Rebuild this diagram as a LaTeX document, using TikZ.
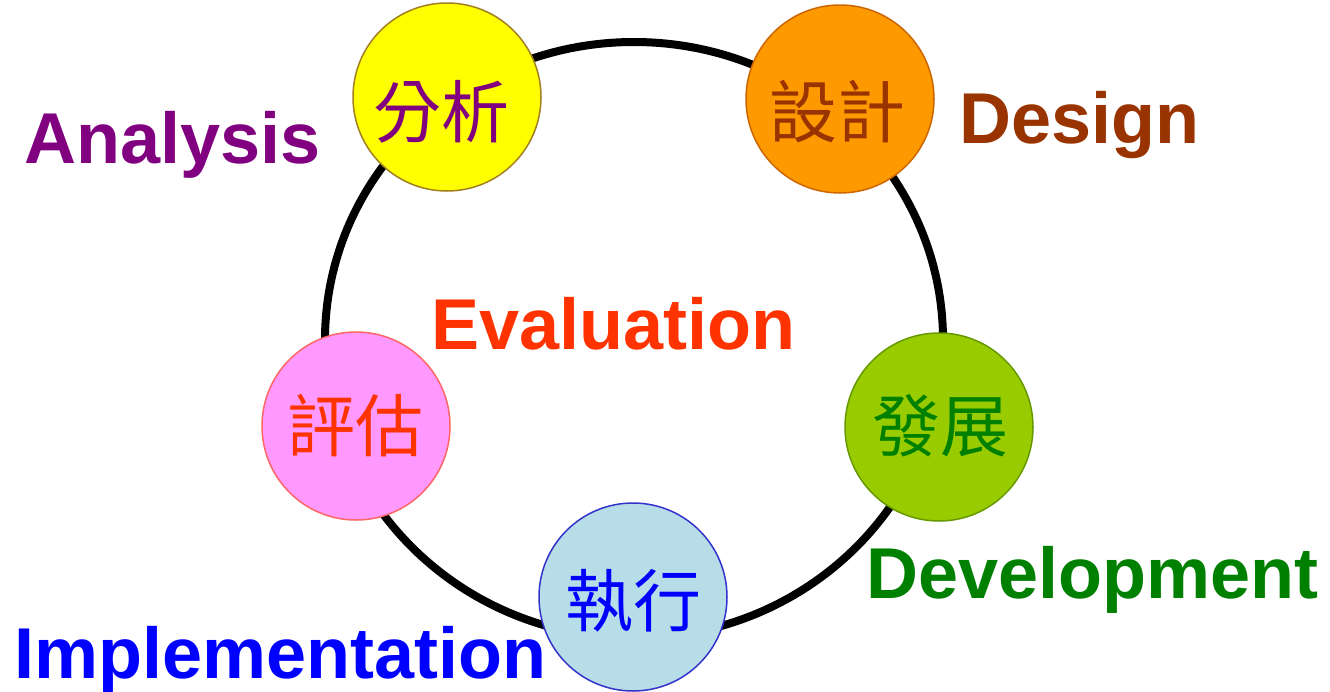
\documentclass[tikz,border=0pt]{standalone}
\usepackage{fontspec}
\setmainfont{Liberation Sans}
\newfontfamily\cjk{Noto Sans CJK TC}
\definecolor{cyellow}{HTML}{FFFF00}
\definecolor{cyellowline}{HTML}{A08020}
\definecolor{corange}{HTML}{FF9900}
\definecolor{corangeline}{HTML}{CC6600}
\definecolor{cpink}{HTML}{FF99FF}
\definecolor{cpinkline}{HTML}{FF6666}
\definecolor{cgreen}{HTML}{99CC00}
\definecolor{cgreenline}{HTML}{669900}
\definecolor{cblue}{HTML}{B7DDE8}
\definecolor{cblueline}{HTML}{3333CC}
\definecolor{tpurple}{HTML}{800080}
\definecolor{tbrown}{HTML}{993300}
\definecolor{tred}{HTML}{FF3300}
\definecolor{tgreen}{HTML}{008000}
\definecolor{tblue}{HTML}{0000FF}
\begin{document}
\begin{tikzpicture}[x=1pt,y=-1pt,
  phase/.style={circle,minimum size=188pt,inner sep=0pt,line width=1.5pt},
  cjklabel/.style={inner sep=0pt,font=\cjk\fontsize{68}{76}\selectfont},
  engl/.style={inner sep=0pt,anchor=base west,font=\bfseries\fontsize{72}{80}\selectfont}]
\useasboundingbox (0,0) rectangle (1330,691);
% ring
\coordinate (ringc) at (634,340);
\draw[line width=8pt] (ringc) ellipse [x radius=309pt, y radius=298pt];
% phase circles
\node[phase,fill=cyellow,draw=cyellowline] (ana) at (447,97) {};
\node[phase,fill=corange,draw=corangeline] (des) at (840,99) {};
\node[phase,fill=cpink,draw=cpinkline] (eva) at (356,426) {};
\node[phase,fill=cgreen,draw=cgreenline] (dev) at (939,427) {};
\node[phase,fill=cblue,draw=cblueline] (imp) at (633,597) {};
% chinese labels
\node[cjklabel,text=tpurple] (anat) at (441,112) {分析};
\node[cjklabel,text=tbrown] (dest) at (837,112) {設計};
\node[cjklabel,text=tred] (evat) at (355,426) {評估};
\node[cjklabel,text=tgreen] (devt) at (940,426) {發展};
\node[cjklabel,text=tblue] (impt) at (633,601) {執行};
% english labels
\node[engl,text=tpurple] (anae) at (24,163) {Analysis};
\node[engl,text=tbrown] (dese) at (959,143) {Design};
\node[engl,text=tred] (evae) at (431,349) {Evaluation};
\node[engl,text=tgreen] (deve) at (866,598) {Development};
\node[engl,text=tblue] (impe) at (14,678) {Implementation};
\end{tikzpicture}
\end{document}
